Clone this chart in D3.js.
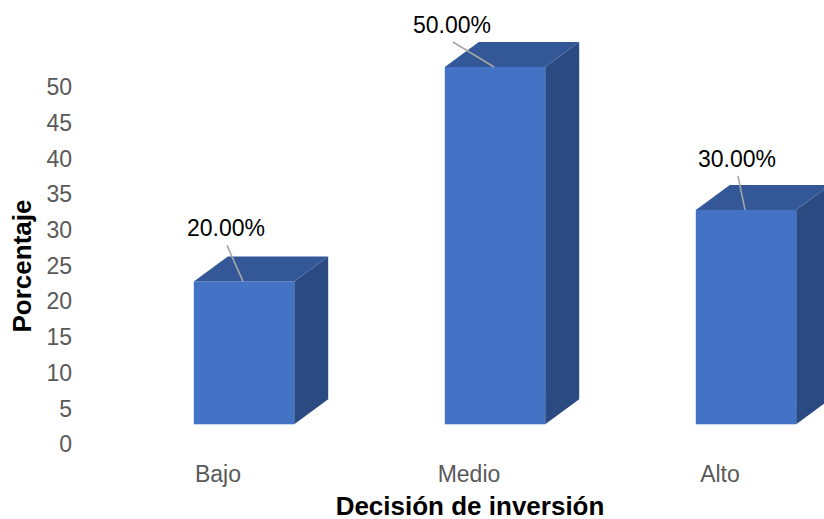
<!DOCTYPE html>
<html lang="es">
<head>
<meta charset="UTF-8">
<title>Decisión de inversión</title>
<script src="https://d3js.org/d3.v7.min.js"></script>
<style>
    body { margin: 0; background: #ffffff; }
    svg { display: block; font-family: "Liberation Sans", Arial, sans-serif; }
    .tick-label { fill: #595959; font-size: 23px; }
    .cat-label { fill: #595959; font-size: 23px; }
    .value-label { fill: #000000; font-size: 23px; }
    .axis-title { fill: #000000; font-size: 26px; font-weight: bold; }
</style>
</head>
<body>
<svg id="chart" width="824" height="519"></svg>
<script>
    // data
    const categories = ["Bajo", "Medio", "Alto"];
    const values = [20, 50, 30];
    const valueLabels = ["20.00%", "50.00%", "30.00%"];
    const yTicks = [0, 5, 10, 15, 20, 25, 30, 35, 40, 45, 50];

    // manual label placement (like in the original spreadsheet), relative to bar top centre
    const labelNudge = [[-18, -45], [-43, -34], [-9, -43]];

    const width = 824, height = 519;
    const depthX = 34, depthY = -25;   // 3d extrusion
    const tickShift = 20;              // axis labels sit a bit lower than the bar floor

    const svg = d3.select("#chart");

    const x = d3.scaleBand()
        .domain(categories)
        .range([118.5, 871.5])
        .paddingInner(0.6)
        .paddingOuter(0.3);

    const y = d3.scaleLinear()
        .domain([0, 50])
        .range([424.3, 67]);

    // y tick labels
    svg.append("g").selectAll("text")
        .data(yTicks)
        .join("text")
        .attr("class", "tick-label")
        .attr("x", 72)
        .attr("y", d => y(d) + tickShift)
        .attr("dy", "0.35em")
        .attr("text-anchor", "end")
        .text(d => d);

    const bars = svg.append("g").selectAll("g")
        .data(categories.map((c, i) => ({cat: c, value: values[i], label: valueLabels[i], nudge: labelNudge[i]})))
        .join("g");

    const bw = x.bandwidth();

    // side face
    bars.append("path")
        .attr("fill", "#2b4a81")
        .attr("d", d => {
            const x1 = x(d.cat) + bw, yt = y(d.value), yb = y(0);
            return `M${x1},${yt}L${x1 + depthX},${yt + depthY}L${x1 + depthX},${yb + depthY}L${x1},${yb}Z`;
        });

    // top face
    bars.append("path")
        .attr("fill", "#345897")
        .attr("d", d => {
            const x0 = x(d.cat), yt = y(d.value);
            return `M${x0},${yt}L${x0 + depthX},${yt + depthY}L${x0 + bw + depthX},${yt + depthY}L${x0 + bw},${yt}Z`;
        });

    // front face
    bars.append("rect")
        .attr("fill", "#4472c4")
        .attr("x", d => x(d.cat))
        .attr("y", d => y(d.value))
        .attr("width", bw)
        .attr("height", d => y(0) - y(d.value));

    // leader lines + value labels
    bars.append("line")
        .attr("stroke", "#a6a6a6")
        .attr("stroke-width", 1.6)
        .attr("x1", d => x(d.cat) + bw / 2 + d.nudge[0] + 1)
        .attr("y1", d => y(d.value) + d.nudge[1] + 9)
        .attr("x2", d => x(d.cat) + bw / 2 - 1)
        .attr("y2", d => y(d.value));

    bars.append("text")
        .attr("class", "value-label")
        .attr("text-anchor", "middle")
        .attr("x", d => x(d.cat) + bw / 2 + d.nudge[0])
        .attr("y", d => y(d.value) + d.nudge[1])
        .text(d => d.label);

    // category labels
    svg.append("g").selectAll("text")
        .data(categories)
        .join("text")
        .attr("class", "cat-label")
        .attr("text-anchor", "middle")
        .attr("x", d => x(d) + bw / 2 - 26)
        .attr("y", 481.5)
        .text(d => d);

    // axis titles
    svg.append("text")
        .attr("class", "axis-title")
        .attr("text-anchor", "middle")
        .attr("x", 470)
        .attr("y", 515)
        .text("Decisión de inversión");

    svg.append("text")
        .attr("class", "axis-title")
        .attr("text-anchor", "middle")
        .attr("transform", "translate(31,266) rotate(-90)")
        .text("Porcentaje");
</script>
</body>
</html>
